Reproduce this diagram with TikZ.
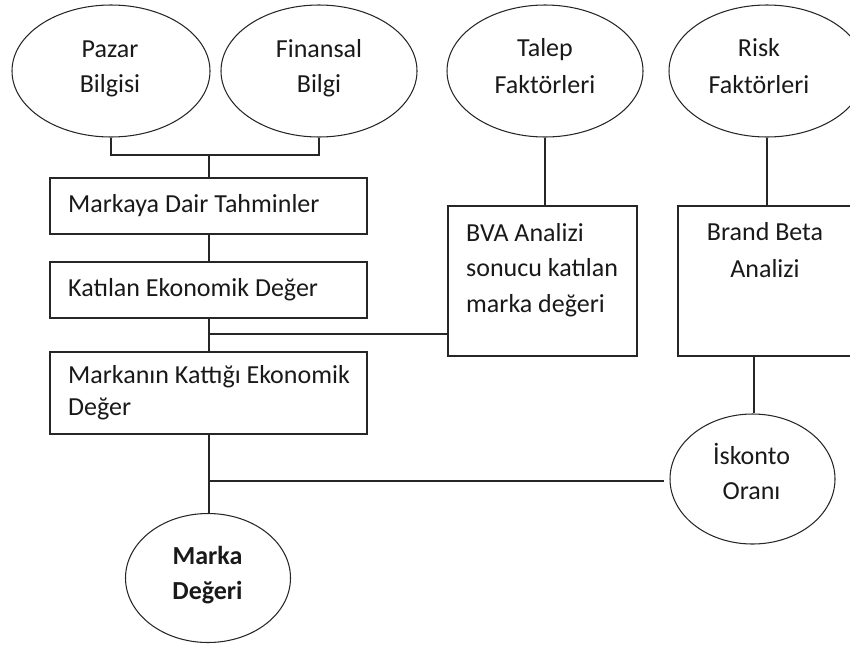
\documentclass[tikz,border=0pt]{standalone}
\usepackage{fontspec}
\setmainfont{Carlito}
\usetikzlibrary{shapes.geometric,calc}

\begin{document}
\begin{tikzpicture}[x=1pt,y=-1pt,
  conn/.style={draw=black!85, line width=1.3pt},
  oval/.style={ellipse, draw=black!85, line width=1.05pt, inner sep=0pt},
  panel/.style={rectangle, draw=black!85, line width=1.2pt, inner sep=0pt},
  txt/.style={inner sep=0pt, text=black!90, font=\fontsize{26}{35}\selectfont},
  ctxt/.style={txt, anchor=base, align=center}
]
\path[use as bounding box, clip] (0,0) rectangle (850,648);

% input ellipses
\node[oval, minimum width=198pt, minimum height=132pt] (pazar) at (111,71) {};
\node[ctxt] (pazarT) at (110,92) {Pazar\\Bilgisi};
\node[oval, minimum width=196pt, minimum height=132pt] (finansal) at (319,71) {};
\node[ctxt] (finansalT) at (319,92) {Finansal\\Bilgi};
\node[oval, minimum width=196pt, minimum height=132pt] (talep) at (545,71) {};
\node[ctxt, font=\fontsize{26}{37}\selectfont] (talepT) at (545,93) {Talep\\Faktörleri};
\node[oval, minimum width=196pt, minimum height=132pt] (risk) at (767,71) {};
\node[ctxt, font=\fontsize{26}{37}\selectfont] (riskT) at (759,93) {Risk\\Faktörleri};

% left column of boxes
\node[panel, minimum width=317pt, minimum height=56pt] (tahmin) at (208.5,206) {};
\node[txt, anchor=base west] (tahminT) at (68,212.5) {Markaya Dair Tahminler};
\node[panel, minimum width=317pt, minimum height=56pt] (katilan) at (208.5,290) {};
\node[txt, anchor=base west] (katilanT) at (68,296) {Katılan Ekonomik Değer};
\node[panel, minimum width=317pt, minimum height=82pt] (kattigi) at (208.5,393) {};
\node[txt, anchor=base west, align=left, font=\fontsize{26}{31.5}\selectfont] (kattigiT) at (68,415) {Markanın Kattığı Ekonomik\\Değer};

% right boxes
\node[panel, minimum width=189pt, minimum height=150pt] (bva) at (542.5,281) {};
\node[txt, anchor=base west, align=left, font=\fontsize{26}{35.5}\selectfont] (bvaT) at (466,312) {BVA Analizi\\sonucu katılan\\marka değeri};
\node[panel, minimum width=180pt, minimum height=150pt] (beta) at (768,281) {};
\node[ctxt, font=\fontsize{26}{36.5}\selectfont] (betaT) at (765,277) {Brand Beta\\Analizi};

% result ellipses
\node[oval, minimum width=165pt, minimum height=130pt] (iskonto) at (752.5,479) {};
\node[ctxt] (iskontoT) at (751.5,499) {İskonto\\Oranı};
\node[oval, minimum width=165pt, minimum height=129pt] (marka) at (208,578) {};
\node[ctxt, font=\bfseries\fontsize{26}{35}\selectfont] (markaT) at (207.5,599) {Marka\\Değeri};

% junctions
\coordinate (j1) at (209,155);
\coordinate (j2) at (209,334);
\coordinate (j3) at (209,481);

% connectors
\draw[conn] (pazar.south) |- (j1);
\draw[conn] (finansal.south) |- (j1);
\draw[conn] (j1) -- (j1 |- tahmin.north);
\draw[conn] (j1 |- tahmin.south) -- (j1 |- katilan.north);
\draw[conn] (j1 |- katilan.south) -- (j1 |- kattigi.north);
\draw[conn] (j2) -- (j2 -| bva.west);
\draw[conn] (talep.south) -- (talep.south |- bva.north);
\draw[conn] (risk.south) -- (risk.south |- beta.north);
\draw[conn] ([xshift=1.5pt]iskonto.north) -- ([xshift=1.5pt]iskonto.north |- beta.south);
\draw[conn] (j3 |- kattigi.south) -- (j3 |- marka.north);
\draw[conn] (j3) -- ($(j3 -| iskonto.west)+(-5,0)$);
\end{tikzpicture}
\end{document}
